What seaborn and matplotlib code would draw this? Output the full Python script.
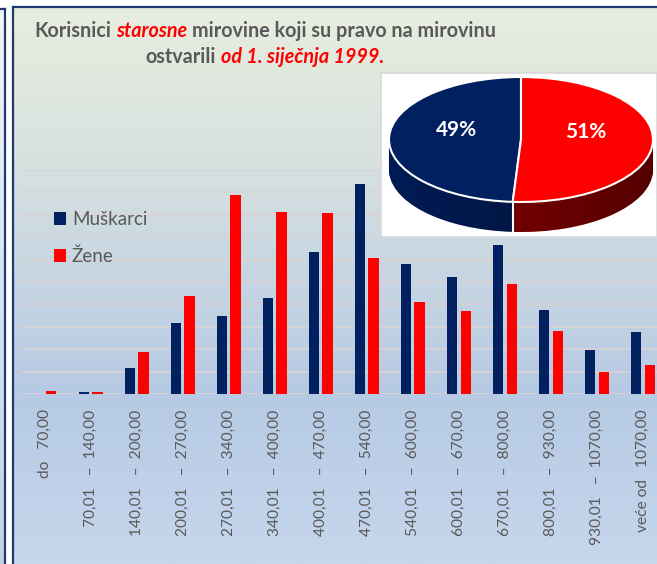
import numpy as np
import pandas as pd
import matplotlib
matplotlib.use("Agg")
import matplotlib.pyplot as plt
import seaborn as sns
from matplotlib.offsetbox import TextArea, HPacker, VPacker, AnchoredOffsetbox
from matplotlib.colors import LinearSegmentedColormap
from matplotlib.path import Path
from matplotlib.patches import PathPatch

# ---- data ----
kategorije = [
    "do   70,00", "70,01   –  140,00", "140,01   –  200,00", "200,01   –  270,00",
    "270,01   –  340,00", "340,01   –  400,00", "400,01   –  470,00",
    "470,01   –  540,00", "540,01   –  600,00", "600,01   –  670,00",
    "670,01   –  800,00", "800,01   –  930,00", "930,01   –  1070,00",
    "veće od   1070,00",
]
muskarci = [0, 70, 1150, 3170, 3470, 4290, 6340, 9390, 5790, 5210, 6640, 3750, 1960, 2750]
zene = [150, 110, 1890, 4380, 8870, 8110, 8070, 6090, 4090, 3690, 4910, 2800, 980, 1290]
spolovi = ["Muškarci", "Žene"]
udjeli = [49, 51]

NAVY = "#002060"
RED = "#FF0000"
GRAY = "#595959"

sns.set_theme(style="white")
plt.rcParams["font.family"] = ["Lato", "DejaVu Sans"]

W, H = 657, 564
fig = plt.figure(figsize=(W / 100, H / 100), dpi=100, facecolor="white")


def fx(px):
    return px / W


def fy(py):
    return 1 - py / H


def gradient_panel(rect, stops, spines_on, zorder=0):
    a = fig.add_axes(rect, zorder=zorder)
    cmap = LinearSegmentedColormap.from_list("bg", stops)
    grad = np.linspace(0, 1, 512).reshape(-1, 1)
    a.imshow(grad, aspect="auto", cmap=cmap, extent=[0, 1, 0, 1],
             origin="upper", interpolation="bilinear")
    a.set_xticks([])
    a.set_yticks([])
    for name, sp in a.spines.items():
        sp.set_visible(name in spines_on)
        sp.set_color("#1F3A6E")
        sp.set_linewidth(1.6)
    return a


def rgb(r, g, b):
    return (r / 255, g / 255, b / 255)


# neighbouring panel on the far left and the main chart panel
gradient_panel([0, 0, fx(5), fy(9)],
               [(0, rgb(242, 246, 251)), (1, rgb(192, 210, 233))],
               ("right", "top"))
gradient_panel([fx(13), 0, 1 - fx(13), fy(7)],
               [(0, rgb(232, 238, 222)), (0.29, rgb(214, 224, 224)),
                (0.695, rgb(182, 202, 228)), (1, rgb(198, 215, 236))],
               ("left", "top"))

# ---- bar chart ----
df = pd.DataFrame({
    "kategorija": kategorije * 2,
    "spol": [spolovi[0]] * len(kategorije) + [spolovi[1]] * len(kategorije),
    "broj": muskarci + zene,
})

ax = fig.add_axes([fx(21.5), fy(394), 1 - fx(21.5), (394 - 170) / H], zorder=2)
ax.set_facecolor("none")
sns.barplot(data=df, x="kategorija", y="broj", hue="spol", order=kategorije,
            hue_order=spolovi, palette={spolovi[0]: NAVY, spolovi[1]: RED},
            saturation=1, errorbar=None, width=0.59, gap=0.24,
            linewidth=0, ax=ax)

step = 46.04
ax.set_xlim(-0.5, -0.5 + (W - 21.5) / step)
ax.set_ylim(0, 10000)
ax.set_yticks(range(0, 10001, 1000))
ax.yaxis.grid(True, color="#D8D3D5", linewidth=1.3)
ax.set_axisbelow(True)
ax.tick_params(axis="y", left=False, labelleft=False)
ax.set_xticks(range(len(kategorije)))
ax.set_xticklabels(kategorije, rotation=90, va="top", ha="center",
                   color=GRAY, fontsize=11.2)
ax.tick_params(axis="x", length=0, pad=11)
ax.set_xlabel("")
ax.set_ylabel("")
for sp in ax.spines.values():
    sp.set_visible(False)

handles, labels = ax.get_legend_handles_labels()
if ax.get_legend() is not None:
    ax.get_legend().remove()
fig.legend(handles, labels, loc="upper left", bbox_to_anchor=(fx(54), fy(211)),
           frameon=False, handlelength=0.65, handleheight=0.65,
           handletextpad=0.3, labelspacing=1.05, fontsize=13.5,
           labelcolor=GRAY, borderpad=0, borderaxespad=0)

# ---- 3D-looking pie ----
pax = fig.add_axes([fx(381), fy(237), 1 - fx(381), (237 - 73) / H], zorder=3)
depth = 0.48
side_colors = ["#001C55", "#8C0000"]
n_layers = 40
for k in range(n_layers, 0, -1):
    pax.pie(udjeli, colors=side_colors, startangle=90, counterclock=True,
            center=(0, -depth * k / n_layers), radius=1,
            wedgeprops=dict(linewidth=0, zorder=2))

# darker shading towards the right on the rim
xs = np.linspace(-1, 1, 300)
upper = -np.sqrt(np.clip(1 - xs ** 2, 0, None))
lower = upper - depth
verts = np.concatenate([np.column_stack([xs, upper]),
                        np.column_stack([xs[::-1], lower[::-1]])])
rim = PathPatch(Path(verts, closed=True), transform=pax.transData,
                facecolor="none", edgecolor="none")
shade = np.zeros((1, 256, 4))
shade[0, :, 3] = np.linspace(0.0, 0.4, 256)
im = pax.imshow(shade, extent=[-1, 1, -1 - depth, 0], aspect="auto",
                interpolation="bilinear", zorder=4)
im.set_clip_path(rim)

split = np.deg2rad(90 + 360 * udjeli[0] / sum(udjeli))
sx, sy = np.cos(split), np.sin(split)
pax.plot([sx, sx], [sy, sy - depth], color="white", lw=1.5, zorder=5)

wedges, _, pcts = pax.pie(
    udjeli, colors=[NAVY, RED], startangle=90, counterclock=True,
    autopct=lambda p: f"{p:.0f}%", pctdistance=0.49,
    wedgeprops=dict(edgecolor="white", linewidth=1.5, zorder=6),
    textprops=dict(color="white", fontsize=15, fontweight="bold", zorder=7))
for t in pcts:
    x, y = t.get_position()
    t.set_position((x, y + 0.14))

pax.set_aspect("auto")
pax.set_xlim(-1.0606, 1.0303)
pax.set_ylim(-1.56, 1.064)
pax.set_frame_on(True)
pax.set_facecolor("white")
for sp in pax.spines.values():
    sp.set_color("#D9D9D9")
    sp.set_linewidth(1.2)

# ---- title with highlighted words ----
fs_t = 14.2


def piece(s, red=False):
    return TextArea(s, textprops=dict(
        color=RED if red else GRAY, fontweight="bold",
        fontstyle="italic" if red else "normal", fontsize=fs_t))


sep = 3.5
line1 = HPacker(children=[piece("Korisnici"), piece("starosne", True),
                          piece("mirovine koji su pravo na mirovinu")],
                align="baseline", pad=0, sep=sep)
line2 = HPacker(children=[piece("ostvarili"), piece("od 1. siječnja 1999.", True)],
                align="baseline", pad=0, sep=sep)
title = VPacker(children=[line1, line2], align="center", pad=0, sep=4.5)
fig.add_artist(AnchoredOffsetbox(loc="center", child=title, pad=0, borderpad=0,
                                 frameon=False, bbox_to_anchor=(fx(265), fy(44)),
                                 bbox_transform=fig.transFigure))

fig.savefig("out.png", dpi=100, facecolor=fig.get_facecolor())
